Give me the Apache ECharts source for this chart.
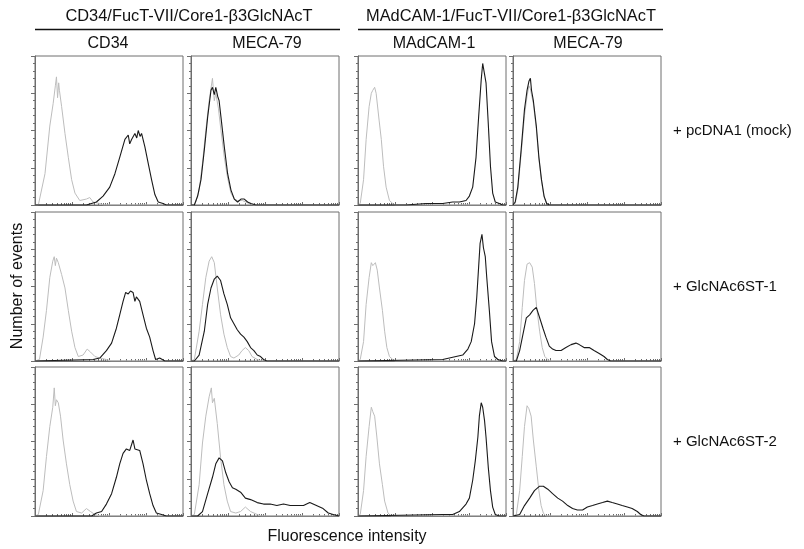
<!DOCTYPE html>
<html><head><meta charset="utf-8">
<script src="https://cdn.jsdelivr.net/npm/echarts@6/dist/echarts.min.js"></script>
<style>html,body{margin:0;padding:0;background:#fff}#c{width:804px;height:549px}</style>
</head><body><div id="c"></div>
<script>
// ---- labels ----
const groupHeaders = ['CD34/FucT-VII/Core1-β3GlcNAcT', 'MAdCAM-1/FucT-VII/Core1-β3GlcNAcT'];
const columnHeaders = ['CD34', 'MECA-79', 'MAdCAM-1', 'MECA-79'];
const rowLabels = ['+ pcDNA1 (mock)', '+ GlcNAc6ST-1', '+ GlcNAc6ST-2'];
const xTitle = 'Fluorescence intensity';
const yTitle = 'Number of events';
const decadeTicks = [0, 1, 2, 3, 4];

// ---- histograms: [log10 fluorescence, events] ----
// row 1 (+ pcDNA1 mock)
const r1c1Control = [[0,0],[0.09,0],[0.27,21],[0.40,53],[0.49,68],[0.55,80],[0.58,86],[0.61,72],[0.64,82],[0.66,77],[0.72,66],[0.81,48],[0.90,32],[0.99,17],[1.08,8],[1.21,3],[1.39,4],[1.48,5],[1.57,2],[1.75,1],[1.85,0],[4,0]];
const r1c1Stain = [[0,0],[1.39,0],[1.66,2],[1.84,6],[2.02,12],[2.16,21],[2.29,32],[2.43,44],[2.52,47],[2.56,41],[2.61,44],[2.70,48],[2.75,45],[2.79,50],[2.84,46],[2.88,48],[2.97,39],[3.06,28],[3.15,17],[3.24,7],[3.33,2],[3.46,1],[3.55,0],[4,0]];
const r1c2Control = [[0,0],[0.08,0],[0.13,2],[0.22,10],[0.31,28],[0.40,50],[0.49,70],[0.58,85],[0.63,70],[0.67,75],[0.74,65],[0.81,50],[0.90,32],[0.99,18],[1.08,8],[1.17,4],[1.26,3],[1.39,3],[1.57,1],[1.70,0],[4,0]];
const r1c2Stain = [[0,0],[0.09,0],[0.18,6],[0.27,17],[0.36,37],[0.45,59],[0.54,77],[0.58,79],[0.63,74],[0.67,79],[0.72,73],[0.76,70],[0.81,59],[0.90,39],[0.99,21],[1.08,10],[1.17,4],[1.26,2],[1.35,4],[1.44,4],[1.53,2],[1.62,1],[1.75,0],[4,0]];
const r1c3Control = [[0,0],[0.06,1],[0.15,17],[0.22,44],[0.30,66],[0.36,75],[0.40,77],[0.45,79],[0.49,75],[0.57,57],[0.63,44],[0.69,26],[0.76,12],[0.85,3],[0.94,1],[1.00,0],[4,0]];
const r1c3Stain = [[0,0],[1.30,0],[1.84,1],[2.29,1],[2.56,2],[2.74,2],[2.92,3],[3.01,6],[3.10,12],[3.19,32],[3.26,59],[3.33,84],[3.37,95],[3.42,94],[3.46,82],[3.52,55],[3.58,26],[3.64,8],[3.71,2],[3.82,1],[3.91,0],[4,0]];
const r1c4Control = [[0,0],[0.06,1],[0.13,10],[0.22,34],[0.31,60],[0.38,73],[0.43,80],[0.47,78],[0.50,74],[0.55,68],[0.63,51],[0.70,31],[0.77,16],[0.84,5],[0.91,1],[0.98,0],[4,0]];
const r1c4Stain = [[0,0],[0.06,2],[0.13,12],[0.22,37],[0.31,64],[0.38,77],[0.43,83],[0.47,85],[0.50,77],[0.55,70],[0.63,53],[0.70,32],[0.77,17],[0.84,6],[0.91,1],[0.98,0],[4,0]];
// row 2 (+ GlcNAc6ST-1)
const r2c1Control = [[0,0],[0.12,1],[0.22,16],[0.31,34],[0.40,56],[0.48,67],[0.52,70],[0.55,64],[0.58,69],[0.63,66],[0.72,58],[0.81,49],[0.90,34],[0.99,20],[1.08,9],[1.17,3],[1.30,4],[1.41,8],[1.50,6],[1.62,3],[1.75,2],[1.93,1],[2.05,0],[4,0]];
const r2c1Stain = [[0,0],[1.57,1],[1.75,2],[1.93,7],[2.07,12],[2.20,22],[2.29,31],[2.38,40],[2.45,46],[2.52,45],[2.58,47],[2.65,46],[2.70,40],[2.74,43],[2.83,40],[2.92,31],[3.01,22],[3.10,16],[3.19,7],[3.26,1],[3.37,2],[3.51,0],[4,0]];
const r2c2Control = [[0,0],[0.09,1],[0.22,20],[0.31,38],[0.40,56],[0.49,67],[0.56,70],[0.63,66],[0.71,49],[0.80,31],[0.89,18],[0.98,9],[1.07,3],[1.16,2],[1.29,4],[1.38,7],[1.47,9],[1.56,7],[1.65,3],[1.79,1],[1.90,0],[4,0]];
const r2c2Stain = [[0,0],[0.09,0],[0.22,4],[0.36,20],[0.45,38],[0.54,49],[0.63,55],[0.71,57],[0.80,54],[0.89,45],[0.98,38],[1.07,29],[1.16,25],[1.25,21],[1.34,18],[1.43,16],[1.52,13],[1.61,9],[1.70,7],[1.79,4],[1.88,3],[1.96,1],[2.05,0],[4,0]];
const r2c3Control = [[0,0],[0.06,1],[0.15,13],[0.22,38],[0.30,56],[0.36,66],[0.40,64],[0.47,66],[0.52,61],[0.58,49],[0.66,34],[0.72,20],[0.78,9],[0.85,3],[0.94,1],[1.00,0],[4,0]];
const r2c3Stain = [[0,0],[2.29,1],[2.47,2],[2.65,3],[2.83,4],[2.97,8],[3.06,13],[3.15,25],[3.21,43],[3.26,63],[3.30,79],[3.35,85],[3.39,76],[3.44,70],[3.48,56],[3.55,34],[3.61,13],[3.69,3],[3.78,1],[3.91,0],[4,0]];
const r2c4Control = [[0,0],[0.09,1],[0.18,13],[0.25,36],[0.31,54],[0.38,65],[0.45,66],[0.52,63],[0.58,52],[0.64,36],[0.72,20],[0.79,9],[0.86,3],[0.94,1],[1.00,0],[4,0]];
const r2c4Stain = [[0,0],[0.09,0],[0.18,7],[0.27,18],[0.36,29],[0.45,31],[0.54,34],[0.63,36],[0.72,29],[0.81,22],[0.89,16],[0.98,10],[1.07,8],[1.16,7],[1.30,7],[1.43,9],[1.57,11],[1.70,12],[1.79,11],[1.92,9],[2.06,9],[2.19,7],[2.33,5],[2.46,3],[2.55,1],[2.64,0],[4,0]];
// row 3 (+ GlcNAc6ST-2)
const r3c1Control = [[0,0],[0.09,1],[0.22,17],[0.31,40],[0.40,60],[0.48,73],[0.52,86],[0.55,74],[0.58,78],[0.63,76],[0.69,67],[0.76,51],[0.85,35],[0.94,21],[1.03,10],[1.12,3],[1.26,2],[1.39,5],[1.50,3],[1.62,1],[1.75,0],[4,0]];
const r3c1Stain = [[0,0],[1.53,0],[1.66,2],[1.80,3],[1.93,8],[2.07,15],[2.20,26],[2.29,35],[2.38,42],[2.47,45],[2.56,44],[2.65,51],[2.70,45],[2.74,46],[2.83,44],[2.92,35],[3.01,24],[3.10,15],[3.19,7],[3.28,2],[3.42,1],[3.55,0],[4,0]];
const r3c2Control = [[0,0],[0.09,1],[0.22,21],[0.31,49],[0.40,67],[0.49,80],[0.55,86],[0.58,76],[0.63,79],[0.71,62],[0.80,39],[0.89,21],[0.98,10],[1.07,3],[1.21,2],[1.34,3],[1.47,6],[1.61,3],[1.79,1],[1.90,0],[4,0]];
const r3c2Stain = [[0,0],[0.18,0],[0.31,3],[0.45,15],[0.58,26],[0.67,35],[0.76,39],[0.85,37],[0.94,29],[1.03,23],[1.12,19],[1.21,18],[1.34,16],[1.47,12],[1.61,11],[1.79,9],[1.96,8],[2.14,8],[2.32,7],[2.50,8],[2.68,7],[2.86,7],[3.04,7],[3.21,9],[3.39,7],[3.57,5],[3.71,2],[3.84,1],[4,0]];
const r3c3Control = [[0,0],[0.06,1],[0.15,17],[0.22,40],[0.30,60],[0.36,73],[0.40,70],[0.45,67],[0.51,53],[0.58,35],[0.66,21],[0.72,10],[0.81,2],[0.90,0],[4,0]];
const r3c3Stain = [[0,0],[2.29,1],[2.56,1],[2.74,3],[2.92,8],[3.01,12],[3.10,24],[3.17,37],[3.24,53],[3.28,67],[3.33,76],[3.37,73],[3.42,64],[3.46,53],[3.52,33],[3.58,17],[3.64,6],[3.71,1],[3.82,0],[4,0]];
const r3c4Control = [[0,0],[0.09,1],[0.18,17],[0.25,40],[0.31,60],[0.38,74],[0.43,72],[0.49,67],[0.55,51],[0.63,33],[0.70,17],[0.76,7],[0.82,2],[0.89,0],[4,0]];
const r3c4Stain = [[0,0],[0.18,1],[0.31,7],[0.45,12],[0.58,17],[0.72,20],[0.82,20],[0.94,18],[1.07,15],[1.21,12],[1.34,10],[1.48,7],[1.61,5],[1.74,4],[1.88,4],[2.01,6],[2.15,7],[2.28,8],[2.42,9],[2.55,10],[2.68,9],[2.82,8],[2.95,7],[3.09,6],[3.22,5],[3.36,3],[3.45,1],[3.54,0],[4,0]];

const panels = [
  [r1c1Control, r1c1Stain], [r1c2Control, r1c2Stain], [r1c3Control, r1c3Stain], [r1c4Control, r1c4Stain],
  [r2c1Control, r2c1Stain], [r2c2Control, r2c2Stain], [r2c3Control, r2c3Stain], [r2c4Control, r2c4Stain],
  [r3c1Control, r3c1Stain], [r3c2Control, r3c2Stain], [r3c3Control, r3c3Stain], [r3c4Control, r3c4Stain]
];

// ---- layout ----
const colLeft = [35, 191, 358, 513];
const rowTop = [56, 212, 367];
const pw = 148, ph = 149;
const frame = '#6e6e6e';
const FONT = 'Liberation Sans, Arial, sans-serif';

const minorTicks = [];
for (let d = 0; d < 4; d++) for (let k = 2; k <= 9; k++) minorTicks.push(d + Math.log10(k));

const grid = [], xAxis = [], yAxis = [], series = [];
panels.forEach((p, i) => {
  const r = Math.floor(i / 4), c = i % 4;
  grid.push({left: colLeft[c], top: rowTop[r], width: pw, height: ph, show: true, borderColor: frame, borderWidth: 1, backgroundColor: 'transparent'});
  xAxis.push({gridIndex: i, type: 'value', min: 0, max: 4, position: 'bottom',
    axisLine: {show: true, onZero: false, lineStyle: {color: frame, width: 1}},
    axisTick: {show: true, inside: true, length: 3, customValues: decadeTicks, lineStyle: {color: frame}},
    axisLabel: {show: false}, splitLine: {show: false}});
  xAxis.push({gridIndex: i, type: 'value', min: 0, max: 4, position: 'bottom',
    axisLine: {show: false},
    axisTick: {show: true, inside: true, length: 2, customValues: minorTicks, lineStyle: {color: frame}},
    axisLabel: {show: false}, splitLine: {show: false}});
  yAxis.push({gridIndex: i, type: 'value', min: 0, max: 100, interval: 25,
    axisLine: {show: true, onZero: false, lineStyle: {color: frame, width: 1}},
    axisTick: {show: true, length: 4, lineStyle: {color: frame}},
    minorTick: {show: true, splitNumber: 5, length: 2, lineStyle: {color: frame}},
    axisLabel: {show: false}, splitLine: {show: false}});
  series.push({type: 'line', xAxisIndex: 2 * i, yAxisIndex: i, data: p[0], showSymbol: false, symbol: 'none',
    lineStyle: {color: '#bdbdbd', width: 1}, z: 2});
  series.push({type: 'line', xAxisIndex: 2 * i, yAxisIndex: i, data: p[1], showSymbol: false, symbol: 'none',
    lineStyle: {color: '#1a1a1a', width: 1.1}, z: 3});
});

const textStyle = (t, x, y, align, size) => ({type: 'text', x: x, y: y,
  style: {text: t, fill: '#111', font: size + 'px ' + FONT, textAlign: align, textVerticalAlign: 'middle'}});

const graphic = [
  textStyle(groupHeaders[0], 189, 16, 'center', 16.4),
  textStyle(groupHeaders[1], 511, 16, 'center', 16.4),
  {type: 'line', shape: {x1: 35, y1: 29.5, x2: 340, y2: 29.5}, style: {stroke: '#111', lineWidth: 1.5}},
  {type: 'line', shape: {x1: 358, y1: 29.5, x2: 663, y2: 29.5}, style: {stroke: '#111', lineWidth: 1.5}},
  textStyle(columnHeaders[0], 108, 44, 'center', 16),
  textStyle(columnHeaders[1], 267, 44, 'center', 16),
  textStyle(columnHeaders[2], 434, 44, 'center', 16),
  textStyle(columnHeaders[3], 588, 44, 'center', 16),
  textStyle(rowLabels[0], 673, 131, 'left', 15),
  textStyle(rowLabels[1], 673, 287, 'left', 15),
  textStyle(rowLabels[2], 673, 442, 'left', 15),
  textStyle(xTitle, 347, 537, 'center', 16),
  {type: 'text', x: 18, y: 286, rotation: Math.PI / 2,
    style: {text: yTitle, fill: '#111', font: '16px ' + FONT, textAlign: 'center', textVerticalAlign: 'middle'}}
];

const chart = echarts.init(document.getElementById('c'), null, {renderer: 'canvas'});
chart.setOption({animation: false, grid, xAxis, yAxis, series, graphic});
</script></body></html>
